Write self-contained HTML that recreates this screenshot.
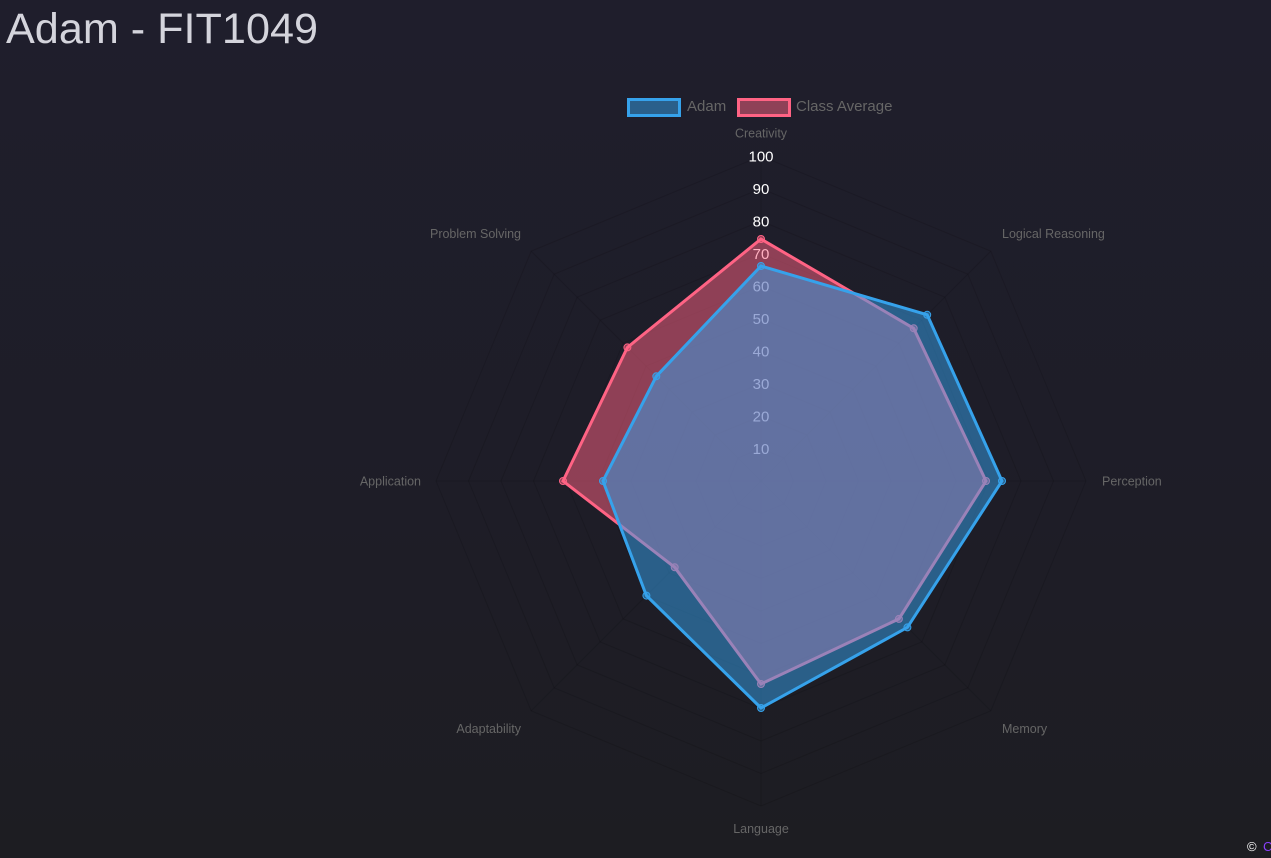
<!DOCTYPE html>
<html>
<head>
<meta charset="utf-8">
<style>
  html,body{margin:0;padding:0;}
  body{width:1271px;height:858px;overflow:hidden;background:linear-gradient(to bottom,#1f1e2c 0%,#1e1d27 60%,#1d1d22 100%);}
  svg{position:absolute;left:0;top:0;}
</style>
</head>
<body>
<svg width="1271" height="858" viewBox="0 0 1271 858" xmlns="http://www.w3.org/2000/svg">
  <!-- Title -->
  <text x="6" y="43" font-family="Liberation Sans, sans-serif" font-size="43" fill="#d4d4dc" textLength="312" lengthAdjust="spacingAndGlyphs">Adam - FIT1049</text>

  <!-- Legend -->
  <rect x="628.5" y="99.5" width="51" height="16" fill="rgba(54,162,235,0.5)" stroke="#36a2eb" stroke-width="3"/>
  <text x="687" y="111" font-family="Liberation Sans, sans-serif" font-size="15" fill="#666">Adam</text>
  <rect x="738.5" y="99.5" width="51" height="16" fill="rgba(255,99,132,0.5)" stroke="#ff6384" stroke-width="3"/>
  <text x="796" y="111" font-family="Liberation Sans, sans-serif" font-size="15" fill="#666">Class Average</text>

  <!-- Grid -->
  <g fill="none" stroke="rgba(0,0,0,0.12)" stroke-width="1">
    <g transform="translate(761,481)">
      <polygon vector-effect="non-scaling-stroke" transform="scale(32.5)" points="0,-1 0.7071,-0.7071 1,0 0.7071,0.7071 0,1 -0.7071,0.7071 -1,0 -0.7071,-0.7071"/>
      <polygon vector-effect="non-scaling-stroke" transform="scale(65)" points="0,-1 0.7071,-0.7071 1,0 0.7071,0.7071 0,1 -0.7071,0.7071 -1,0 -0.7071,-0.7071"/>
      <polygon vector-effect="non-scaling-stroke" transform="scale(97.5)" points="0,-1 0.7071,-0.7071 1,0 0.7071,0.7071 0,1 -0.7071,0.7071 -1,0 -0.7071,-0.7071"/>
      <polygon vector-effect="non-scaling-stroke" transform="scale(130)" points="0,-1 0.7071,-0.7071 1,0 0.7071,0.7071 0,1 -0.7071,0.7071 -1,0 -0.7071,-0.7071"/>
      <polygon vector-effect="non-scaling-stroke" transform="scale(162.5)" points="0,-1 0.7071,-0.7071 1,0 0.7071,0.7071 0,1 -0.7071,0.7071 -1,0 -0.7071,-0.7071"/>
      <polygon vector-effect="non-scaling-stroke" transform="scale(195)" points="0,-1 0.7071,-0.7071 1,0 0.7071,0.7071 0,1 -0.7071,0.7071 -1,0 -0.7071,-0.7071"/>
      <polygon vector-effect="non-scaling-stroke" transform="scale(227.5)" points="0,-1 0.7071,-0.7071 1,0 0.7071,0.7071 0,1 -0.7071,0.7071 -1,0 -0.7071,-0.7071"/>
      <polygon vector-effect="non-scaling-stroke" transform="scale(260)" points="0,-1 0.7071,-0.7071 1,0 0.7071,0.7071 0,1 -0.7071,0.7071 -1,0 -0.7071,-0.7071"/>
      <polygon vector-effect="non-scaling-stroke" transform="scale(292.5)" points="0,-1 0.7071,-0.7071 1,0 0.7071,0.7071 0,1 -0.7071,0.7071 -1,0 -0.7071,-0.7071"/>
      <polygon vector-effect="non-scaling-stroke" transform="scale(325)" points="0,-1 0.7071,-0.7071 1,0 0.7071,0.7071 0,1 -0.7071,0.7071 -1,0 -0.7071,-0.7071"/>
      <line x1="0" y1="0" x2="0" y2="-325"/>
      <line x1="0" y1="0" x2="229.8" y2="-229.8"/>
      <line x1="0" y1="0" x2="325" y2="0"/>
      <line x1="0" y1="0" x2="229.8" y2="229.8"/>
      <line x1="0" y1="0" x2="0" y2="325"/>
      <line x1="0" y1="0" x2="-229.8" y2="229.8"/>
      <line x1="0" y1="0" x2="-325" y2="0"/>
      <line x1="0" y1="0" x2="-229.8" y2="-229.8"/>
    </g>
  </g>

  <!-- Point labels -->
  <g font-family="Liberation Sans, sans-serif" font-size="12.5" fill="#666">
    <text x="761" y="137.5" text-anchor="middle">Creativity</text>
    <text x="1002" y="238">Logical Reasoning</text>
    <text x="1102" y="485.5">Perception</text>
    <text x="1002" y="733">Memory</text>
    <text x="761" y="833" text-anchor="middle">Language</text>
    <text x="521" y="733" text-anchor="end">Adaptability</text>
    <text x="421" y="485.5" text-anchor="end">Application</text>
    <text x="521" y="238" text-anchor="end">Problem Solving</text>
  </g>

  <!-- Tick labels -->
  <g font-family="Liberation Sans, sans-serif" font-size="15" fill="#ffffff" text-anchor="middle">
    <text x="761" y="161.5">100</text>
    <text x="761" y="194">90</text>
    <text x="761" y="226.5">80</text>
    <text x="761" y="259">70</text>
    <text x="761" y="291.5">60</text>
    <text x="761" y="324">50</text>
    <text x="761" y="356.5">40</text>
    <text x="761" y="389">30</text>
    <text x="761" y="421.5">20</text>
    <text x="761" y="454">10</text>
  </g>

  <!-- Class Average dataset -->
  <polygon points="761,239 913.7,328.3 986,481 898.9,618.9 761,684 674.7,567.3 563,481 627.4,347.4"
    fill="rgba(255,99,132,0.5)" stroke="#ff6384" stroke-width="3" stroke-linejoin="miter"/>
  <g fill="rgba(255,99,132,0.5)" stroke="#ff6384" stroke-width="1">
    <circle cx="761" cy="239" r="3.5"/>
    <circle cx="913.7" cy="328.3" r="3.5"/>
    <circle cx="986" cy="481" r="3.5"/>
    <circle cx="898.9" cy="618.9" r="3.5"/>
    <circle cx="761" cy="684" r="3.5"/>
    <circle cx="674.7" cy="567.3" r="3.5"/>
    <circle cx="563" cy="481" r="3.5"/>
    <circle cx="627.4" cy="347.4" r="3.5"/>
  </g>

  <!-- Adam dataset -->
  <polygon points="761,266 927.2,314.8 1002,481 907.4,627.4 761,708 646.4,595.6 603,481 656.3,376.3"
    fill="rgba(54,162,235,0.5)" stroke="#36a2eb" stroke-width="3" stroke-linejoin="miter"/>
  <g fill="rgba(54,162,235,0.5)" stroke="#36a2eb" stroke-width="1">
    <circle cx="761" cy="266" r="3.5"/>
    <circle cx="927.2" cy="314.8" r="3.5"/>
    <circle cx="1002" cy="481" r="3.5"/>
    <circle cx="907.4" cy="627.4" r="3.5"/>
    <circle cx="761" cy="708" r="3.5"/>
    <circle cx="646.4" cy="595.6" r="3.5"/>
    <circle cx="603" cy="481" r="3.5"/>
    <circle cx="656.3" cy="376.3" r="3.5"/>
  </g>

  <!-- Footer copyright -->
  <text x="1247" y="851" font-family="Liberation Sans, sans-serif" font-size="13" fill="#ffffff">©</text>
  <text x="1263" y="851" font-family="Liberation Sans, sans-serif" font-size="13" fill="#8a3ffc">C</text>
</svg>
</body>
</html>
